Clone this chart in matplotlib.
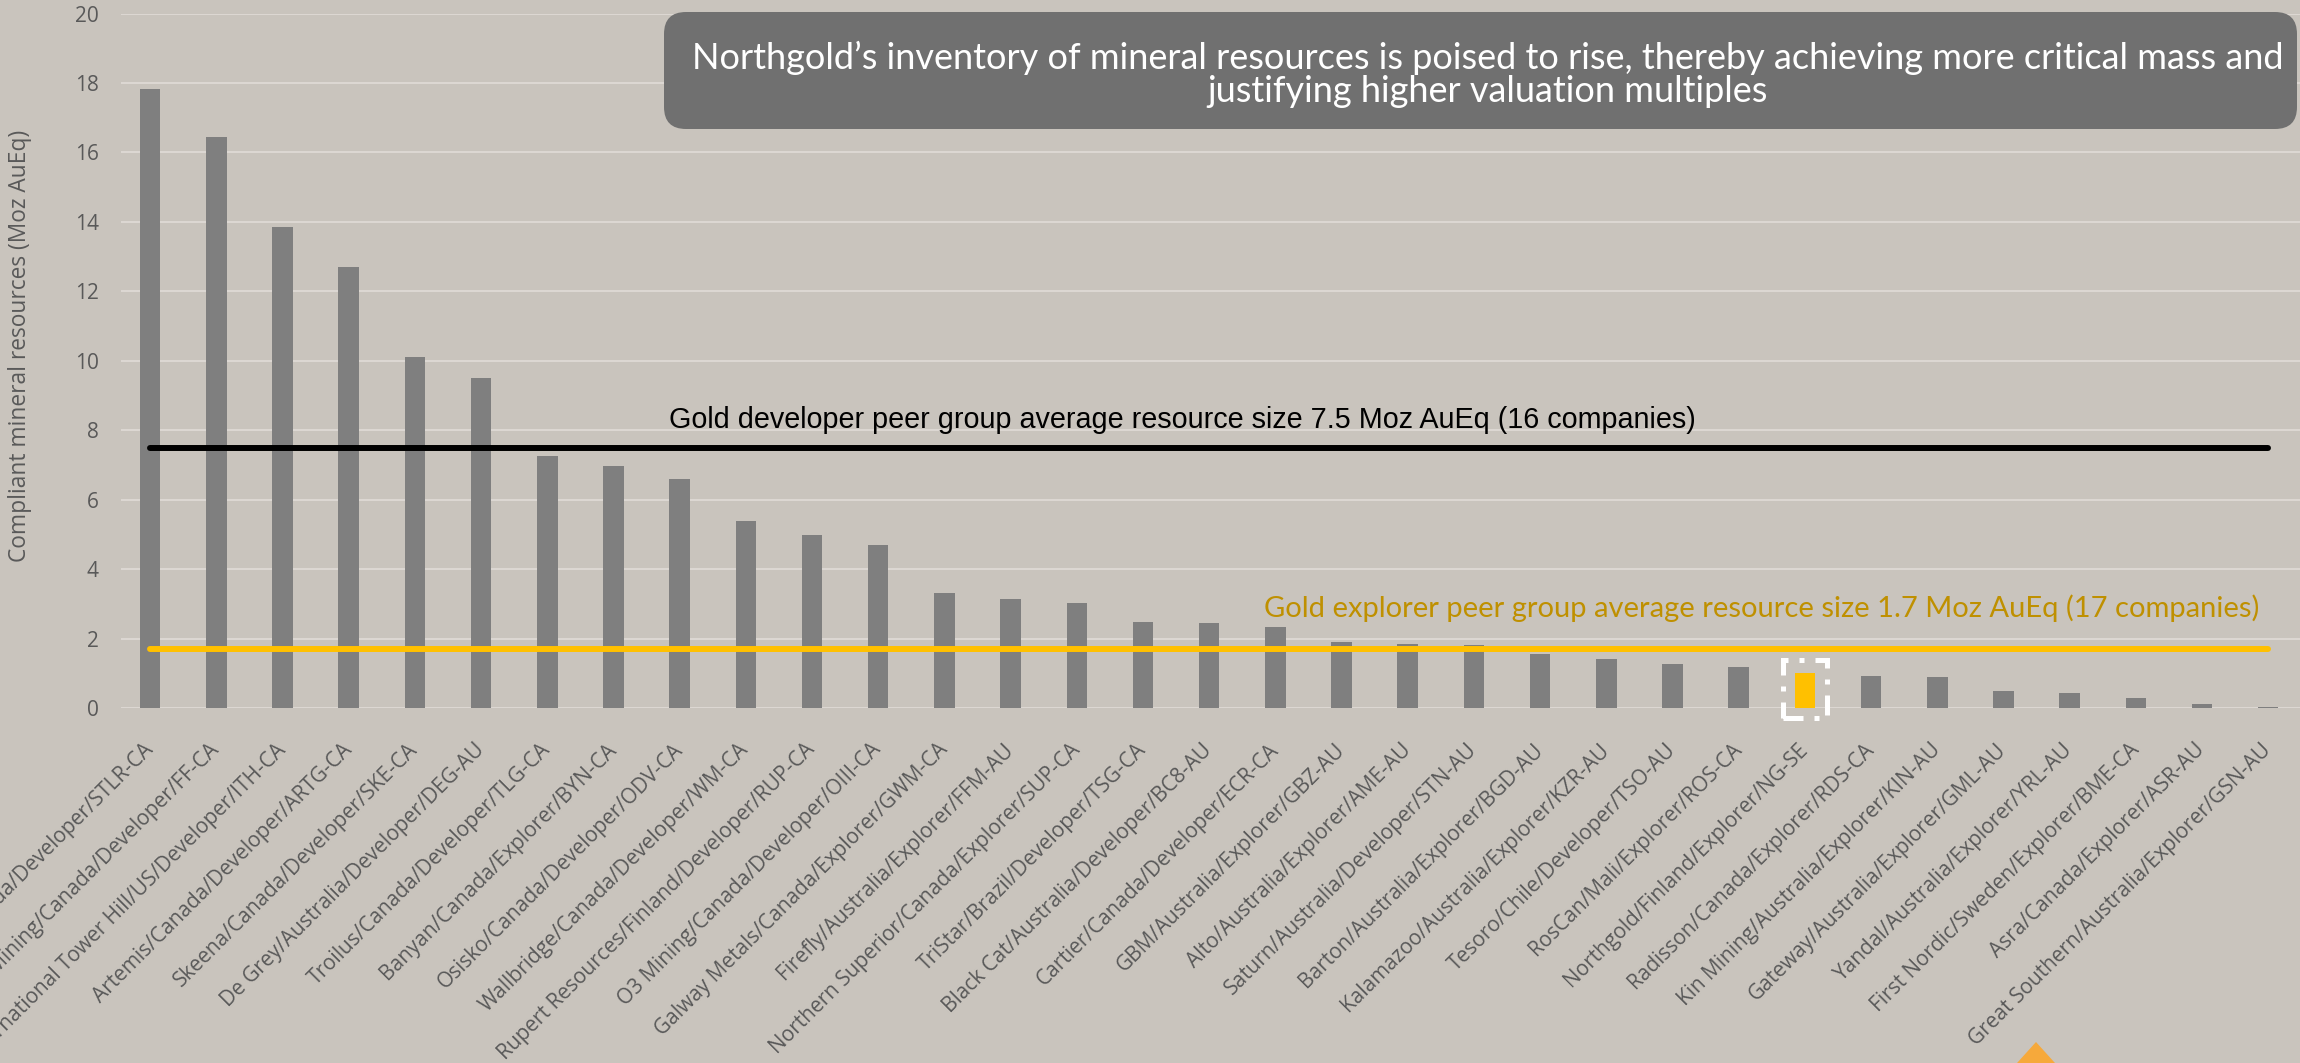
import matplotlib.pyplot as plt
from matplotlib.patches import FancyBboxPatch, Rectangle, Polygon

# empresas (nome/país/estágio/ticker) e recursos em Moz AuEq
empresas = [
    'STLLR Gold/Canada/Developer/STLR-CA',
    'First Mining/Canada/Developer/FF-CA',
    'International Tower Hill/US/Developer/ITH-CA',
    'Artemis/Canada/Developer/ARTG-CA',
    'Skeena/Canada/Developer/SKE-CA',
    'De Grey/Australia/Developer/DEG-AU',
    'Troilus/Canada/Developer/TLG-CA',
    'Banyan/Canada/Explorer/BYN-CA',
    'Osisko/Canada/Developer/ODV-CA',
    'Wallbridge/Canada/Developer/WM-CA',
    'Rupert Resources/Finland/Developer/RUP-CA',
    'O3 Mining/Canada/Developer/OIII-CA',
    'Galway Metals/Canada/Explorer/GWM-CA',
    'Firefly/Australia/Explorer/FFM-AU',
    'Northern Superior/Canada/Explorer/SUP-CA',
    'TriStar/Brazil/Developer/TSG-CA',
    'Black Cat/Australia/Developer/BC8-AU',
    'Cartier/Canada/Developer/ECR-CA',
    'GBM/Australia/Explorer/GBZ-AU',
    'Alto/Australia/Explorer/AME-AU',
    'Saturn/Australia/Developer/STN-AU',
    'Barton/Australia/Explorer/BGD-AU',
    'Kalamazoo/Australia/Explorer/KZR-AU',
    'Tesoro/Chile/Developer/TSO-AU',
    'RosCan/Mali/Explorer/ROS-CA',
    'Northgold/Finland/Explorer/NG-SE',
    'Radisson/Canada/Explorer/RDS-CA',
    'Kin Mining/Australia/Explorer/KIN-AU',
    'Gateway/Australia/Explorer/GML-AU',
    'Yandal/Australia/Explorer/YRL-AU',
    'First Nordic/Sweden/Explorer/BME-CA',
    'Asra/Canada/Explorer/ASR-AU',
    'Great Southern/Australia/Explorer/GSN-AU',
]
recursos = [17.84, 16.45, 13.85, 12.7, 10.1, 9.5, 7.27, 6.98, 6.6, 5.37,
            4.98, 4.7, 3.3, 3.15, 3.02, 2.47, 2.45, 2.32, 1.9, 1.85,
            1.82, 1.56, 1.42, 1.27, 1.18, 1.0, 0.92, 0.9, 0.5, 0.44,
            0.3, 0.12, 0.04]
destaque = 'Northgold/Finland/Explorer/NG-SE'
media_developer = 7.5
media_explorer = 1.7
yticks = list(range(0, 21, 2))

texto_dev = 'Gold developer peer group average resource size 7.5 Moz AuEq (16 companies)'
texto_exp = 'Gold explorer peer group average resource size 1.7 Moz AuEq (17 companies)'
texto_caixa = ('Northgold\u2019s inventory of mineral resources is poised to rise, thereby achieving more critical mass and\n'
               'justifying higher valuation multiples')

fundo = '#C9C4BD'
cinza = '#7F7F7F'
amarelo = '#FFC000'

fig = plt.figure(figsize=(23, 10.63), dpi=100)
fig.patch.set_facecolor(fundo)
ax = fig.add_axes([0.0526, 0.334, 0.9474, 0.6533])
ax.set_facecolor(fundo)

n = len(empresas)
x = list(range(n))
cores = [amarelo if e == destaque else cinza for e in empresas]
ax.bar(x, recursos, width=0.31, color=cores, zorder=2)

# linhas de média
ax.plot([0, n - 1], [media_developer] * 2, color='black', lw=4.3,
        solid_capstyle='round', zorder=3)
ax.plot([0, n - 1], [media_explorer] * 2, color=amarelo, lw=4.3,
        solid_capstyle='round', zorder=3)

ax.text(15.6, media_developer + 0.8, texto_dev, ha='center', va='center',
        fontsize=20.7, family='Liberation Sans', color='black')
ax.text(24.35, media_explorer + 1.17, texto_exp, ha='center', va='center',
        fontsize=21, family='Lato', color='#BF9000')

# destaque tracejado em volta da barra da Northgold
i = empresas.index(destaque)
ax.add_patch(Rectangle((i - 0.33, -0.29), 0.66, recursos[i] + 0.38 + 0.29,
                       fill=False, ec='white', lw=3.6,
                       ls=(0, (4, 2.2, 1, 2.2)), clip_on=False, zorder=4))

ax.set_xlim(-0.44, n - 1 + 0.48)
ax.set_ylim(0, 20)
ax.set_yticks(yticks)
ax.grid(axis='y', color='#E0DCD7', lw=1.2, zorder=0)
ax.set_axisbelow(True)
for s in ax.spines.values():
    s.set_visible(False)
ax.tick_params(length=0, colors='#595959', labelsize=15)
ax.tick_params(axis='y', pad=16)
ax.tick_params(axis='x', pad=28)
ax.set_xticks(x)
ax.set_xticklabels(empresas, rotation=45, ha='right', va='center',
                   rotation_mode='anchor', family='Open Sans')
for t in ax.get_yticklabels():
    t.set_family('Open Sans')

fig.text(0.0085, 0.675, 'Compliant mineral resources (Moz AuEq)', rotation=90,
         ha='center', va='center', fontsize=16.4, family='Open Sans', color='#595959')

# caixa de comentário
caixa = FancyBboxPatch((6.64, 9.34), 16.33, 1.17,
                       boxstyle='round,pad=0,rounding_size=0.22',
                       transform=fig.dpi_scale_trans, fc='#707070', ec='none')
fig.patches.append(caixa)
fig.text(14.88, 9.89, texto_caixa, transform=fig.dpi_scale_trans,
         ha='center', va='center', fontsize=26, family='Lato', color='white',
         linespacing=1.0)

# seta laranja no rodapé
seta = Polygon([(20.36, 0.21), (20.08, -0.1), (20.64, -0.1)], closed=True,
               transform=fig.dpi_scale_trans, fc='#F6A93B', ec='none')
fig.patches.append(seta)

plt.savefig('out.png', dpi=100, facecolor=fundo)
plt.close()
